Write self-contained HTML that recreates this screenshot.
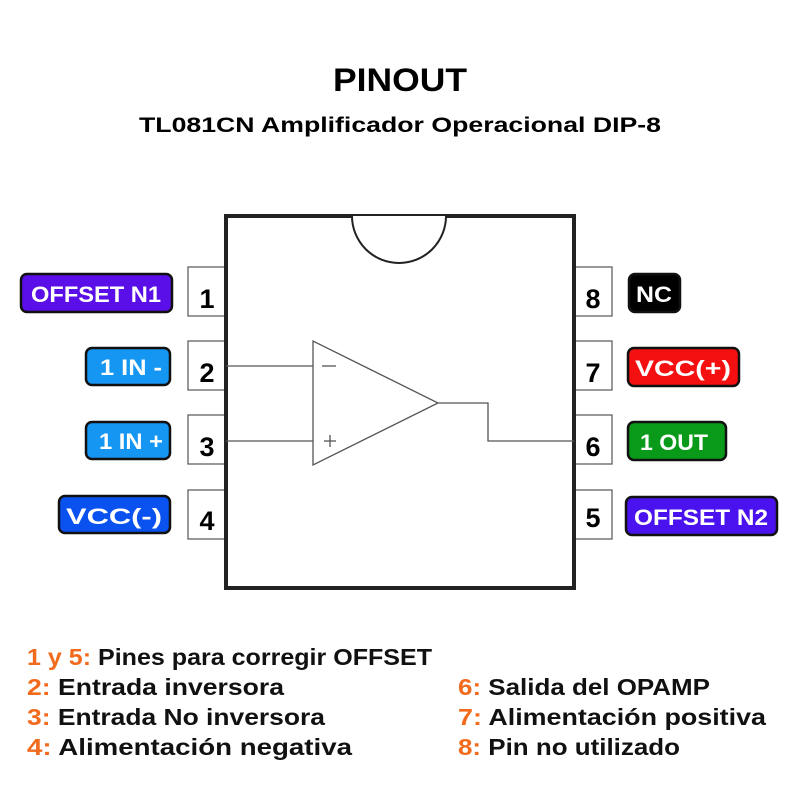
<!DOCTYPE html>
<html><head><meta charset="utf-8"><style>
html,body{margin:0;padding:0;background:#fff;width:800px;height:800px;overflow:hidden}
svg{display:block}
text{font-family:"Liberation Sans",sans-serif;font-weight:bold}
.lbl{fill:#fff;font-size:22px}
.pn{fill:#000;font-size:27px}
.lg{font-size:23px;fill:#111}
.o{fill:#f26b1d}
</style></head><body>
<svg width="800" height="800" viewBox="0 0 800 800">
<text x="400" y="91" text-anchor="middle" font-size="32" textLength="134" lengthAdjust="spacingAndGlyphs">PINOUT</text>
<text x="400" y="132" text-anchor="middle" font-size="21" textLength="522" lengthAdjust="spacingAndGlyphs">TL081CN Amplificador Operacional DIP-8</text>

<g fill="#fff" stroke="#555" stroke-width="1.2">
<rect x="188" y="267" width="38" height="49"/><rect x="188" y="341" width="38" height="49"/>
<rect x="188" y="415" width="38" height="49"/><rect x="188" y="490" width="38" height="49"/>
<rect x="574" y="267" width="38" height="49"/><rect x="574" y="341" width="38" height="49"/>
<rect x="574" y="415" width="38" height="49"/><rect x="574" y="490" width="38" height="49"/>
</g>
<rect x="226" y="216" width="348" height="372" fill="#fff" stroke="#222" stroke-width="4"/>
<path d="M352 216 A47 47 0 0 0 446 216" fill="#fff" stroke="#222" stroke-width="2"/>

<g class="pn">
<text x="207" y="308" text-anchor="middle">1</text><text x="207" y="382" text-anchor="middle">2</text>
<text x="207" y="456" text-anchor="middle">3</text><text x="207" y="530" text-anchor="middle">4</text>
<text x="593" y="308" text-anchor="middle">8</text><text x="593" y="382" text-anchor="middle">7</text>
<text x="593" y="456" text-anchor="middle">6</text><text x="593" y="527" text-anchor="middle">5</text>
</g>

<g fill="none" stroke="#555" stroke-width="1.3">
<polygon points="313,341 313,465 438,403"/>
<line x1="226" y1="366" x2="313" y2="366"/><line x1="226" y1="441" x2="313" y2="441"/>
<polyline points="438,403 488,403 488,441 574,441"/>
<line x1="322" y1="366" x2="336" y2="366"/>
<line x1="324" y1="441" x2="336" y2="441"/><line x1="330" y1="435" x2="330" y2="447"/>
</g>

<g stroke="#111" stroke-width="2.5">
<rect x="21" y="274" width="151" height="38" rx="6" fill="#5a0fe8"/>
<rect x="86" y="348" width="84" height="37" rx="6" fill="#1596f2"/>
<rect x="86" y="422" width="84" height="37" rx="6" fill="#1596f2"/>
<rect x="59" y="496" width="111" height="37" rx="6" fill="#0a52f0"/>
<rect x="629" y="274" width="51" height="38" rx="6" fill="#000"/>
<rect x="628" y="348" width="111" height="38" rx="6" fill="#f41010"/>
<rect x="628" y="422" width="98" height="38" rx="6" fill="#0a9a1a"/>
<rect x="626" y="497" width="151" height="38" rx="6" fill="#4a12ee"/>
</g>
<g class="lbl">
<text x="96" y="302" text-anchor="middle" textLength="130" lengthAdjust="spacingAndGlyphs">OFFSET N1</text>
<text x="131" y="375" text-anchor="middle" textLength="62" lengthAdjust="spacingAndGlyphs">1 IN -</text>
<text x="131" y="449" text-anchor="middle" textLength="64" lengthAdjust="spacingAndGlyphs">1 IN +</text>
<text x="114" y="524" text-anchor="middle" textLength="96" lengthAdjust="spacingAndGlyphs">VCC(-)</text>
<text x="654" y="302" text-anchor="middle" textLength="36" lengthAdjust="spacingAndGlyphs">NC</text>
<text x="683" y="376" text-anchor="middle" textLength="96" lengthAdjust="spacingAndGlyphs">VCC(+)</text>
<text x="674" y="450" text-anchor="middle" textLength="68" lengthAdjust="spacingAndGlyphs">1 OUT</text>
<text x="701" y="525" text-anchor="middle" textLength="134" lengthAdjust="spacingAndGlyphs">OFFSET N2</text>
</g>

<g class="lg">
<text x="27" y="665" textLength="405" lengthAdjust="spacingAndGlyphs"><tspan class="o">1 y 5:</tspan> Pines para corregir OFFSET</text>
<text x="27" y="695" textLength="257" lengthAdjust="spacingAndGlyphs"><tspan class="o">2:</tspan> Entrada inversora</text>
<text x="27" y="725" textLength="298" lengthAdjust="spacingAndGlyphs"><tspan class="o">3:</tspan> Entrada No inversora</text>
<text x="27" y="755" textLength="325" lengthAdjust="spacingAndGlyphs"><tspan class="o">4:</tspan> Alimentación negativa</text>
<text x="458" y="695" textLength="252" lengthAdjust="spacingAndGlyphs"><tspan class="o">6:</tspan> Salida del OPAMP</text>
<text x="458" y="725" textLength="308" lengthAdjust="spacingAndGlyphs"><tspan class="o">7:</tspan> Alimentación positiva</text>
<text x="458" y="755" textLength="222" lengthAdjust="spacingAndGlyphs"><tspan class="o">8:</tspan> Pin no utilizado</text>
</g>
</svg>
</body></html>
